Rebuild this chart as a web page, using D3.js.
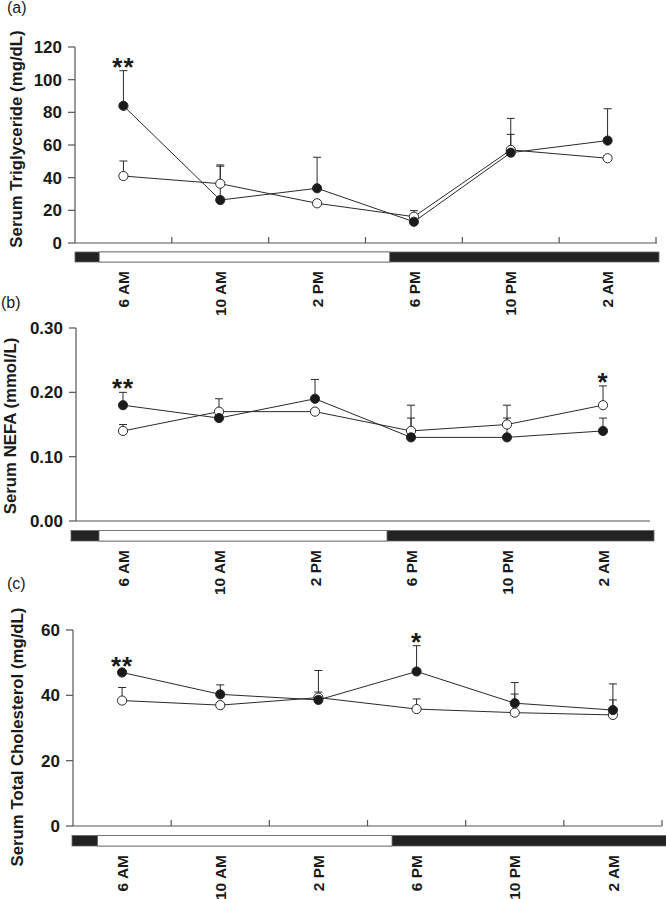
<!DOCTYPE html>
<html><head><meta charset="utf-8">
<script src="https://cdn.jsdelivr.net/npm/d3@7"></script>
<style>
html,body{margin:0;padding:0;background:#fff;}
svg{display:block;}
text{font-family:"Liberation Sans",Arial,Helvetica,sans-serif;fill:#1a1a1a;}
</style></head>
<body>
<svg id="chart" width="666" height="899"></svg>
<script>
// ---------- data ----------
const timeLabels = ["6 AM", "10 AM", "2 PM", "6 PM", "10 PM", "2 AM"];
const timeHours  = [6, 10, 14, 18, 22, 26];          // hours since midnight of day 1
const lightsOn = 5, lightsOff = 17;                  // light period (hours)

// (a) Serum triglyceride (mg/dL)
const tgFilled   = [84, 26.3, 33.5, 13.0, 55.3, 62.7];
const tgFilledSD = [21.5, 20.7, 19.0, 2.0, 21.0, 19.5];
const tgOpen     = [41, 36.3, 24.3, 16.1, 57.0, 51.9];
const tgOpenSD   = [9.2, 11.5, 1.5, 3.7, 9.5, 1.5];
const tgStars    = ["**", "", "", "", "", ""];
const tgTicks    = [0, 20, 40, 60, 80, 100, 120];

// (b) Serum NEFA (mmol/L)
const nefaFilled   = [0.18, 0.16, 0.19, 0.13, 0.13, 0.14];
const nefaFilledSD = [0.02, 0.004, 0.03, 0.03, 0.03, 0.02];
const nefaOpen     = [0.14, 0.17, 0.17, 0.14, 0.15, 0.18];
const nefaOpenSD   = [0.01, 0.02, 0.004, 0.04, 0.03, 0.03];
const nefaStars    = ["**", "", "", "", "", "*"];
const nefaTicks    = [0, 0.10, 0.20, 0.30];

// (c) Serum total cholesterol (mg/dL)
const tcFilled   = [47.0, 40.3, 38.6, 47.3, 37.6, 35.5];
const tcFilledSD = [0.8, 2.9, 9.0, 7.9, 6.3, 8.0];
const tcOpen     = [38.4, 37.0, 39.3, 35.8, 34.7, 34.0];
const tcOpenSD   = [4.0, 0.4, 1.7, 3.1, 5.7, 4.6];
const tcStars    = ["**", "", "", "*", "", ""];
const tcTicks    = [0, 20, 40, 60];

// ---------- layout ----------
const panels = [
  { tag: "(a)", tagX: 7, tagY: 13, title: "Serum Triglyceride (mg/dL)", titleX: 16, titleY: 139,
    filled: tgFilled, filledSD: tgFilledSD, open: tgOpen, openSD: tgOpenSD, stars: tgStars,
    ticks: tgTicks, fmt: d3.format("d"),
    ax: 75, x0: 75, x1: 656, xAxisEnd: 657, yTop: 47, yBot: 243, xTicks: true,
    barX0: 75, barX1: 659, barY: 252, barH: 10, labelTop: 271 },
  { tag: "(b)", tagX: 1, tagY: 308, title: "Serum NEFA (mmol/L)", titleX: 10, titleY: 426,
    filled: nefaFilled, filledSD: nefaFilledSD, open: nefaOpen, openSD: nefaOpenSD, stars: nefaStars,
    ticks: nefaTicks, fmt: d3.format(".2f"),
    ax: 76, x0: 75, x1: 651, xAxisEnd: 650, yTop: 328, yBot: 521, xTicks: false,
    barX0: 71, barX1: 654, barY: 530.5, barH: 10.5, labelTop: 550 },
  { tag: "(c)", tagX: 7, tagY: 589, title: "Serum Total Cholesterol (mg/dL)", titleX: 17, titleY: 737,
    filled: tcFilled, filledSD: tcFilledSD, open: tcOpen, openSD: tcOpenSD, stars: tcStars,
    ticks: tcTicks, fmt: d3.format("d"),
    ax: 73, x0: 73, x1: 662, xAxisEnd: 662, yTop: 630, yBot: 826, xTicks: true,
    barX0: 72, barX1: 668, barY: 835.5, barH: 10.5, labelTop: 855 }
];

const svg = d3.select("#chart");
const axisColor = "#555";
const lineColor = "#2a2a2a";

panels.forEach(p => {
  const g = svg.append("g");
  const x = d3.scaleLinear().domain([4, 28]).range([p.x0, p.x1]);
  const y = d3.scaleLinear().domain([p.ticks[0], p.ticks[p.ticks.length - 1]]).range([p.yBot, p.yTop]);

  // panel tag
  g.append("text").attr("x", p.tagX).attr("y", p.tagY)
    .attr("font-size", 16).text(p.tag);

  // y title
  g.append("text")
    .attr("transform", `translate(${p.titleX},${p.titleY}) rotate(-90)`)
    .attr("text-anchor", "middle").attr("dy", "0.35em")
    .attr("font-size", 16.8).attr("font-weight", "bold")
    .text(p.title);

  // y axis
  g.append("line").attr("x1", p.ax).attr("x2", p.ax).attr("y1", y.range()[1]).attr("y2", y.range()[0])
    .attr("stroke", axisColor).attr("stroke-width", 1.2);
  p.ticks.forEach(t => {
    g.append("line").attr("x1", p.ax - 7).attr("x2", p.ax).attr("y1", y(t)).attr("y2", y(t))
      .attr("stroke", axisColor).attr("stroke-width", 1.2);
    g.append("text").attr("x", p.ax - 13).attr("y", y(t)).attr("dy", "0.36em")
      .attr("text-anchor", "end").attr("font-size", 17).attr("font-weight", "bold")
      .text(p.fmt(t));
  });

  // x axis line
  g.append("line").attr("x1", p.ax).attr("x2", p.xAxisEnd).attr("y1", p.yBot).attr("y2", p.yBot)
    .attr("stroke", axisColor).attr("stroke-width", 1.2);
  if (p.xTicks) {
    [8, 12, 16, 20, 24, 28].forEach(h => {
      g.append("line").attr("x1", x(h)).attr("x2", x(h)).attr("y1", p.yBot).attr("y2", p.yBot - 6)
        .attr("stroke", axisColor).attr("stroke-width", 1.2);
    });
  }

  // light/dark bar
  g.append("rect").attr("x", p.barX0).attr("y", p.barY).attr("width", p.barX1 - p.barX0).attr("height", p.barH)
    .attr("fill", "#222").attr("stroke", "#666").attr("stroke-width", 0.8);
  g.append("rect").attr("x", x(lightsOn)).attr("y", p.barY).attr("width", x(lightsOff) - x(lightsOn)).attr("height", p.barH)
    .attr("fill", "#fff").attr("stroke", "#666").attr("stroke-width", 0.8);

  // x labels
  timeLabels.forEach((lab, i) => {
    g.append("text")
      .attr("transform", `translate(${x(timeHours[i])},${p.labelTop}) rotate(-90)`)
      .attr("text-anchor", "end").attr("dy", "0.36em")
      .attr("font-size", 15.5).attr("font-weight", "bold")
      .text(lab);
  });

  // error bars
  const series = [
    { vals: p.open, sd: p.openSD, fill: "#fff" },
    { vals: p.filled, sd: p.filledSD, fill: "#1a1a1a" }
  ];
  series.forEach(s => {
    s.vals.forEach((v, i) => {
      const cx = x(timeHours[i]);
      const top = y(v + s.sd[i]);
      g.append("line").attr("x1", cx).attr("x2", cx).attr("y1", y(v)).attr("y2", top)
        .attr("stroke", lineColor).attr("stroke-width", 1);
      g.append("line").attr("x1", cx - 4).attr("x2", cx + 4).attr("y1", top).attr("y2", top)
        .attr("stroke", lineColor).attr("stroke-width", 1);
    });
  });

  // lines
  const line = d3.line().x((d, i) => x(timeHours[i])).y(d => y(d));
  series.forEach(s => {
    g.append("path").attr("d", line(s.vals)).attr("fill", "none")
      .attr("stroke", lineColor).attr("stroke-width", 1);
  });

  // markers
  series.forEach(s => {
    s.vals.forEach((v, i) => {
      g.append("circle").attr("cx", x(timeHours[i])).attr("cy", y(v)).attr("r", 4.6)
        .attr("fill", s.fill).attr("stroke", lineColor).attr("stroke-width", 1);
    });
  });

  // significance stars
  p.stars.forEach((st, i) => {
    if (!st) return;
    const top = Math.min(y(p.filled[i] + p.filledSD[i]), y(p.open[i] + p.openSD[i]));
    g.append("text").attr("x", x(timeHours[i])).attr("y", top - 11)
      .attr("text-anchor", "middle").attr("dy", "0.62em")
      .attr("font-family", "DejaVu Sans").attr("font-size", 26).attr("font-weight", "bold")
      .attr("letter-spacing", "1px")
      .text(st);
  });
});
</script>
</body></html>
